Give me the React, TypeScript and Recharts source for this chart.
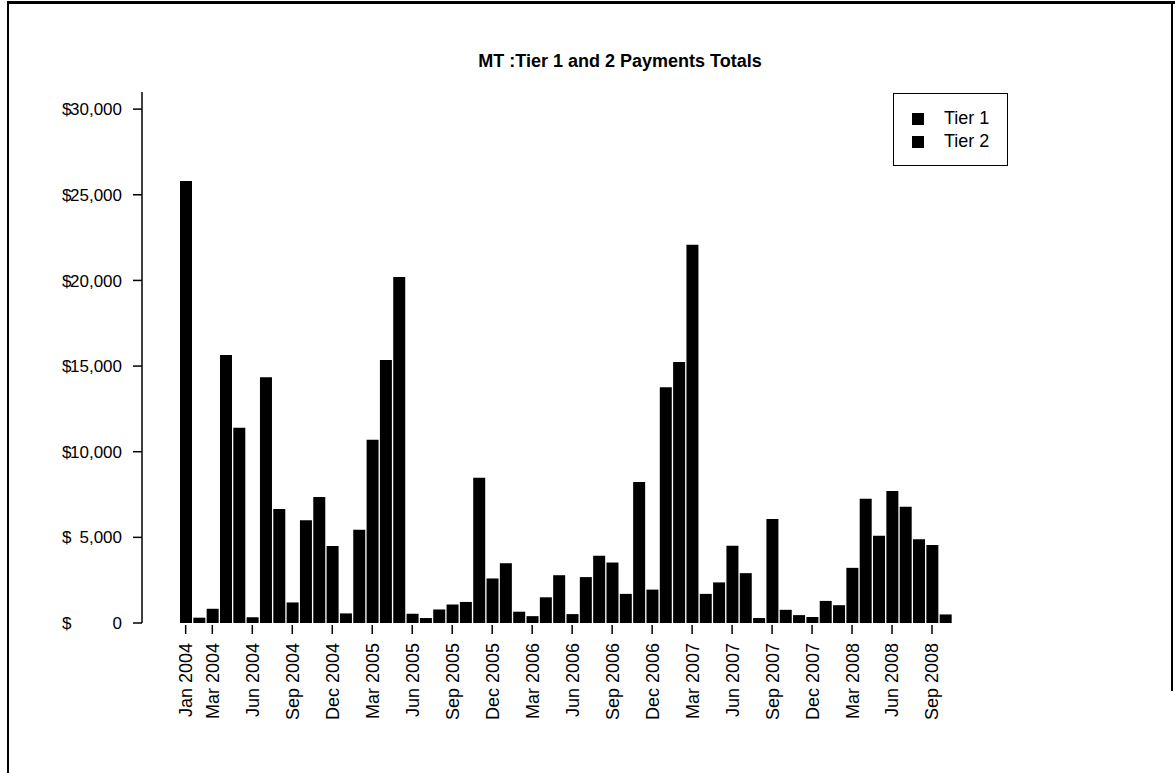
import { Bar, BarChart, XAxis, YAxis } from "recharts";

const months = [
  "Jan 2004", "Feb 2004", "Mar 2004", "Apr 2004", "May 2004", "Jun 2004",
  "Jul 2004", "Aug 2004", "Sep 2004", "Oct 2004", "Nov 2004", "Dec 2004",
  "Jan 2005", "Feb 2005", "Mar 2005", "Apr 2005", "May 2005", "Jun 2005",
  "Jul 2005", "Aug 2005", "Sep 2005", "Oct 2005", "Nov 2005", "Dec 2005",
  "Jan 2006", "Feb 2006", "Mar 2006", "Apr 2006", "May 2006", "Jun 2006",
  "Jul 2006", "Aug 2006", "Sep 2006", "Oct 2006", "Nov 2006", "Dec 2006",
  "Jan 2007", "Feb 2007", "Mar 2007", "Apr 2007", "May 2007", "Jun 2007",
  "Jul 2007", "Aug 2007", "Sep 2007", "Oct 2007", "Nov 2007", "Dec 2007",
  "Jan 2008", "Feb 2008", "Mar 2008", "Apr 2008", "May 2008", "Jun 2008",
  "Jul 2008", "Aug 2008", "Sep 2008", "Oct 2008",
];

// monthly totals (Tier 1 + Tier 2, both drawn black)
const payments = [
  25800, 310, 830, 15650, 11400, 330, 14350, 6650, 1200, 6000, 7350, 4500,
  560, 5450, 10700, 15350, 20200, 540, 290, 790, 1080, 1230, 8480, 2600,
  3490, 660, 400, 1500, 2790, 520, 2680, 3930, 3530, 1700, 8230, 1950,
  13760, 15240, 22080, 1700, 2370, 4510, 2910, 290, 6070, 770, 460, 350,
  1290, 1040, 3220, 7260, 5090, 7710, 6780, 4890, 4550, 500,
];

const labeledMonths = [
  "Jan 2004", "Mar 2004", "Jun 2004", "Sep 2004", "Dec 2004",
  "Mar 2005", "Jun 2005", "Sep 2005", "Dec 2005",
  "Mar 2006", "Jun 2006", "Sep 2006", "Dec 2006",
  "Mar 2007", "Jun 2007", "Sep 2007", "Dec 2007",
  "Mar 2008", "Jun 2008", "Sep 2008",
];

const yTicks = [0, 5000, 10000, 15000, 20000, 25000, 30000];
const legendItems = ["Tier 1", "Tier 2"];

const data = months.map((m, i) => ({ month: m, total: payments[i] }));

const FONT = "'Liberation Sans', Arial, sans-serif";

function MonthTick(props: any) {
  const { x, y, payload } = props;
  if (!labeledMonths.includes(payload.value)) return null;
  const ty = y + 20;
  return (
    <g>
      <line x1={x} x2={x} y1={y + 2} y2={y + 11} stroke="#000" strokeWidth={1.5} />
      <text
        x={x}
        y={ty}
        transform={`rotate(-90, ${x}, ${ty})`}
        textAnchor="end"
        dy="0.36em"
        fontSize={18}
        fontFamily={FONT}
        fill="#000"
      >
        {payload.value}
      </text>
    </g>
  );
}

function DollarTick(props: any) {
  const { x, y, payload } = props;
  const v = payload.value as number;
  const num = v === 0 ? "0" : v.toLocaleString("en-US");
  return (
    <g fontSize={17} fontFamily={FONT} fill="#000">
      <text x={x - 60} y={y} dy="0.36em" textAnchor="start">
        $
      </text>
      <text x={x} y={y} dy="0.36em" textAnchor="end">
        {num}
      </text>
    </g>
  );
}

export default function App() {
  return (
    <div
      style={{
        position: "absolute",
        left: 0,
        top: 0,
        width: 1175,
        height: 773,
        background: "#fff",
        overflow: "hidden",
      }}
    >
      {/* scanned page frame */}
      <div style={{ position: "absolute", left: 7, top: 1, width: 1168, height: 3, background: "#000" }} />
      <div style={{ position: "absolute", left: 7, top: 1, width: 2, height: 772, background: "#000" }} />
      <div style={{ position: "absolute", left: 1171, top: 1, width: 2, height: 690, background: "#000" }} />

      <div
        style={{
          position: "absolute",
          left: 0,
          width: 1240,
          top: 51,
          textAlign: "center",
          fontFamily: FONT,
          fontWeight: "bold",
          fontSize: 18,
        }}
      >
        MT :Tier 1 and 2 Payments Totals
      </div>

      <BarChart
        width={1175}
        height={773}
        data={data}
        margin={{ top: 92, right: 223, bottom: 0, left: 0 }}
        barSize={12}
        style={{ position: "absolute", left: 0, top: 0 }}
      >
        <XAxis
          dataKey="month"
          height={150}
          padding={{ left: 37, right: 0 }}
          axisLine={false}
          tickLine={false}
          tickSize={0}
          tickMargin={0}
          interval={0}
          tick={<MonthTick />}
        />
        <YAxis
          width={142}
          domain={[0, 31000]}
          ticks={yTicks}
          allowDataOverflow
          axisLine={{ stroke: "#000", strokeWidth: 1.5 }}
          tickLine={{ stroke: "#000", strokeWidth: 1.5 }}
          tickSize={9}
          tickMargin={11}
          tick={<DollarTick />}
        />
        <Bar dataKey="total" name="Tier 1" fill="#000" isAnimationActive={false} />
      </BarChart>

      <div
        style={{
          position: "absolute",
          left: 893,
          top: 93,
          width: 115,
          height: 73,
          border: "1.5px solid #000",
          background: "#fff",
          boxSizing: "border-box",
          paddingTop: 13,
          fontFamily: FONT,
          fontSize: 18,
        }}
      >
        {legendItems.map((t) => (
          <div key={t} style={{ display: "flex", alignItems: "center", height: 23 }}>
            <span
              style={{
                display: "inline-block",
                width: 12,
                height: 12,
                background: "#000",
                marginLeft: 18,
                marginRight: 20,
              }}
            />
            <span>{t}</span>
          </div>
        ))}
      </div>
    </div>
  );
}
